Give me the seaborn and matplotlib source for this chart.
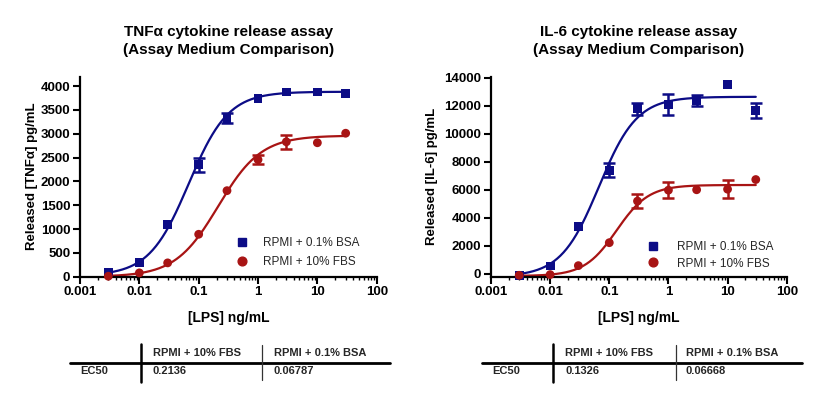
import numpy as np
import pandas as pd
import matplotlib
matplotlib.use('Agg')
import matplotlib.pyplot as plt
import seaborn as sns
from matplotlib.lines import Line2D
from matplotlib.ticker import FixedLocator, LogLocator, NullFormatter

# ---------------- data ----------------
lps_conc = [0.003, 0.01, 0.03, 0.1, 0.3, 1, 3, 10, 30]

tnf_bsa = [100, 290, 1100, 2350, 3320, 3735, 3875, 3875, 3840]
tnf_bsa_sem = [0, 0, 0, 150, 105, 0, 0, 0, 0]
tnf_fbs = [10, 80, 290, 890, 1805, 2455, 2830, 2810, 3010]
tnf_fbs_sem = [0, 0, 0, 0, 0, 100, 145, 0, 0]

il6_bsa = [-100, 570, 3370, 7400, 11800, 12080, 12380, 13520, 11650]
il6_bsa_sem = [0, 0, 0, 500, 415, 735, 380, 0, 535]
il6_fbs = [-100, -50, 590, 2230, 5200, 5980, 6010, 6050, 6740]
il6_fbs_sem = [0, 0, 0, 0, 500, 590, 0, 630, 0]

# 4PL fit parameters: bottom, top, EC50, hill slope
tnf_bsa_fit = [20, 3880, 0.06787, 1.3]
tnf_fbs_fit = [0, 2960, 0.2136, 1.2]
il6_bsa_fit = [-200, 12650, 0.06668, 1.35]
il6_fbs_fit = [-150, 6350, 0.1326, 1.6]

media = ['RPMI + 0.1% BSA', 'RPMI + 10% FBS']
ec50_columns = ['RPMI + 10% FBS', 'RPMI + 0.1% BSA']
tnf_ec50 = ['0.2136', '0.06787']
il6_ec50 = ['0.1326', '0.06668']

x_tick_values = [0.001, 0.01, 0.1, 1, 10, 100]
x_tick_labels = ['0.001', '0.01', '0.1', '1', '10', '100']
tnf_yticks = [0, 500, 1000, 1500, 2000, 2500, 3000, 3500, 4000]
il6_yticks = [0, 2000, 4000, 6000, 8000, 10000, 12000, 14000]

titles = ['TNF\u03b1 cytokine release assay\n(Assay Medium Comparison)',
          'IL-6 cytokine release assay\n(Assay Medium Comparison)']
ylabels = ['Released [TNF\u03b1] pg/mL', 'Released [IL-6] pg/mL']
xlabel = '[LPS] ng/mL'

# ---------------- style ----------------
sns.set_style('ticks')
plt.rcParams['font.family'] = ['Liberation Sans', 'DejaVu Sans']
plt.rcParams['font.weight'] = 'bold'
plt.rcParams['axes.labelweight'] = 'bold'
plt.rcParams['axes.titleweight'] = 'bold'

BLUE = '#0c0c86'
RED = '#a81414'
palette = {media[0]: BLUE, media[1]: RED}
markers = {media[0]: 's', media[1]: 'o'}

W, H = 814, 394
fig = plt.figure(figsize=(W / 100, H / 100), dpi=100)


def fx(px):
    return px / W


def fy(py):
    return 1 - py / H


ax_bottom_px, ax_top_px = 276.7, 76.5
axes_px = [(80, 376.7), (491, 786.7)]
axes = []
for (l, r) in axes_px:
    axes.append(fig.add_axes([fx(l), fy(ax_bottom_px), fx(r) - fx(l),
                              (ax_bottom_px - ax_top_px) / H]))


def four_pl(x, p):
    bottom, top, ec50, hill = p
    return bottom + (top - bottom) / (1 + (ec50 / x) ** hill)


def make_points(bsa, bsa_sem, fbs, fbs_sem):
    return pd.DataFrame({
        'conc': lps_conc * 2,
        'value': bsa + fbs,
        'sem': bsa_sem + fbs_sem,
        'medium': [media[0]] * len(lps_conc) + [media[1]] * len(lps_conc),
    })


def make_curves(fit_bsa, fit_fbs):
    grid = np.logspace(np.log10(lps_conc[0]), np.log10(lps_conc[-1]), 300)
    return pd.DataFrame({
        'conc': np.concatenate([grid, grid]),
        'value': np.concatenate([four_pl(grid, fit_bsa), four_pl(grid, fit_fbs)]),
        'medium': [media[0]] * len(grid) + [media[1]] * len(grid),
    })


datasets = [
    (make_points(tnf_bsa, tnf_bsa_sem, tnf_fbs, tnf_fbs_sem),
     make_curves(tnf_bsa_fit, tnf_fbs_fit), (0, 4200), tnf_yticks),
    (make_points(il6_bsa, il6_bsa_sem, il6_fbs, il6_fbs_sem),
     make_curves(il6_bsa_fit, il6_fbs_fit), (-200, 14100), il6_yticks),
]

legend_pos = [((0.525, 0.121), 1.3, 0.55), ((0.528, 0.106), 1.5, 0.35)]
ylabel_x = [-0.163, -0.1995]

for i, ax in enumerate(axes):
    pts, crv, ylim, yticks = datasets[i]
    sns.lineplot(data=crv, x='conc', y='value', hue='medium', palette=palette,
                 linewidth=1.6, ax=ax, legend=False, zorder=2)
    for med in media:
        sub = pts[pts['medium'] == med]
        sub = sub[sub['sem'] > 0]
        ax.errorbar(sub['conc'], sub['value'], yerr=sub['sem'], fmt='none',
                    ecolor=palette[med], elinewidth=1.8, capsize=4, capthick=1.8,
                    zorder=3)
    sns.scatterplot(data=pts, x='conc', y='value', hue='medium', style='medium',
                    palette=palette, markers=markers, s=40, linewidth=0,
                    ax=ax, legend=False, zorder=4, clip_on=False)

    ax.set_xscale('log')
    ax.set_xlim(0.001, 100)
    ax.set_ylim(*ylim)
    ax.xaxis.set_major_locator(FixedLocator(x_tick_values))
    ax.set_xticklabels(x_tick_labels)
    ax.xaxis.set_minor_locator(LogLocator(base=10, subs=np.arange(2, 10)))
    ax.xaxis.set_minor_formatter(NullFormatter())
    ax.set_yticks(yticks)
    ax.set_yticklabels([str(v) for v in yticks])

    for s in ['top', 'right']:
        ax.spines[s].set_visible(False)
    for s in ['left', 'bottom']:
        ax.spines[s].set_linewidth(1.6)
        ax.spines[s].set_color('black')
    ax.tick_params(axis='both', which='major', direction='out', length=5,
                   width=1.5, color='black', labelsize=9.5, pad=2,
                   labelcolor='black')
    ax.tick_params(axis='x', which='minor', direction='out', length=2.5,
                   width=1.0, color='black')

    ax.set_xlabel(xlabel, fontsize=10, fontweight='bold', color='black')
    ax.xaxis.label.set_va('center')
    ax.xaxis.set_label_coords(0.5, -0.204)
    ax.set_ylabel(ylabels[i], fontsize=9.5, fontweight='bold', color='black')
    ax.yaxis.label.set_va('center')
    ax.yaxis.set_label_coords(ylabel_x[i], 0.5)

    ax.set_title(titles[i], fontsize=11, fontweight='bold', pad=16,
                 linespacing=1.4, color='black')

    handles = [Line2D([], [], linestyle='none', marker=markers[m], color=palette[m],
                      markersize=6.3) for m in media]
    (bx, by), tpad, lspace = legend_pos[i]
    ax.legend(handles, media, loc='center left', bbox_to_anchor=(bx, by),
              frameon=False, handlelength=1.0, handletextpad=tpad,
              labelspacing=lspace, borderpad=0, borderaxespad=0,
              prop={'weight': 'normal', 'size': 8.5})

# ---------------- EC50 tables ----------------
tables = [
    dict(h=(70, 390), v1=141, v2=262, lab=80.7, c1=152.7, c2=274, vals=tnf_ec50),
    dict(h=(481.6, 802), v1=553, v2=675.5, lab=492, c1=565, c2=686, vals=il6_ec50),
]
for t in tables:
    fig.add_artist(Line2D([fx(t['h'][0]), fx(t['h'][1])], [fy(362.7), fy(362.7)],
                          color='black', linewidth=2.0))
    fig.add_artist(Line2D([fx(t['v1']), fx(t['v1'])], [fy(344), fy(382)],
                          color='black', linewidth=1.8))
    fig.add_artist(Line2D([fx(t['v2']), fx(t['v2'])], [fy(345), fy(380)],
                          color='#333333', linewidth=0.9))
    fig.text(fx(t['c1']), fy(353), ec50_columns[0], fontsize=8, fontweight='bold',
             ha='left', va='center')
    fig.text(fx(t['c2']), fy(353), ec50_columns[1], fontsize=8, fontweight='bold',
             ha='left', va='center')
    fig.text(fx(t['lab']), fy(371.5), 'EC50', fontsize=8, fontweight='bold',
             ha='left', va='center')
    fig.text(fx(t['c1']), fy(371.5), t['vals'][0], fontsize=8, fontweight='bold',
             ha='left', va='center')
    fig.text(fx(t['c2']), fy(371.5), t['vals'][1], fontsize=8, fontweight='bold',
             ha='left', va='center')

fig.savefig('out.png', dpi=100, facecolor='white')
